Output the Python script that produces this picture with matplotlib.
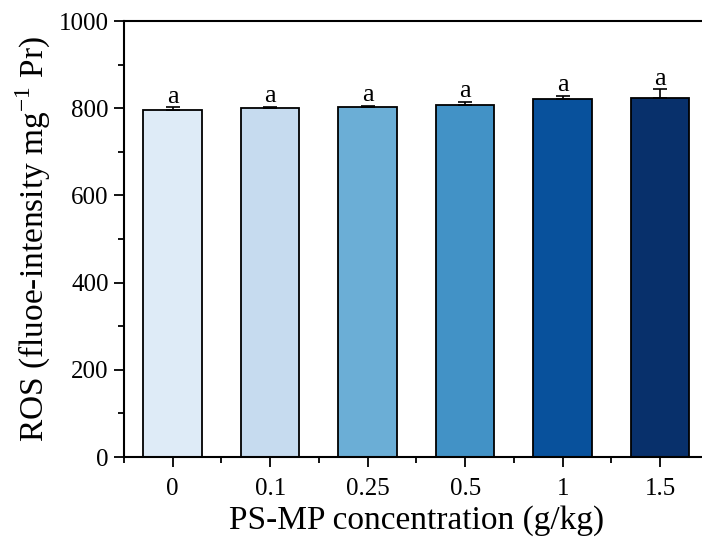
import numpy as np
import matplotlib.pyplot as plt
from matplotlib.ticker import MultipleLocator

plt.rcParams['font.family'] = ['Liberation Serif', 'DejaVu Serif']
plt.rcParams['mathtext.fontset'] = 'custom'
plt.rcParams['mathtext.rm'] = 'Liberation Serif'

# data
concentrations = ['0', '0.1', '0.25', '0.5', '1', '1.5']
ros = [796, 801, 803, 807, 820, 823]
ros_err = [6, 2, 3, 8, 9, 20]
letters = ['a', 'a', 'a', 'a', 'a', 'a']
colors = ['#deebf7', '#c6dbef', '#6baed6', '#4292c6', '#08519c', '#08306b']

fig = plt.figure(figsize=(7.02, 5.46), dpi=100)
ax = fig.add_axes([0.1766, 0.163, 0.8333, 0.7985])

x = np.arange(len(concentrations))
ax.bar(x, ros, width=0.6, color=colors, edgecolor='black', linewidth=1.3, zorder=2)
ax.errorbar(x, ros, yerr=[np.zeros(len(ros)), ros_err], fmt='none', ecolor='black',
            elinewidth=1.2, capsize=5, capthick=1.2, zorder=3)

for xi, v, e, lab in zip(x, ros, ros_err, letters):
    ax.text(xi, v + e - 1, lab, ha='center', va='bottom', fontsize=19)

ax.set_xlim(-0.5, 5.5)
ax.set_ylim(0, 1000)
ax.set_xticks(x)
ax.set_xticklabels(concentrations)
ax.set_yticks(np.arange(0, 1001, 200))
ax.xaxis.set_minor_locator(MultipleLocator(0.5))
ax.yaxis.set_minor_locator(MultipleLocator(100))

ax.tick_params(which='major', direction='out', length=7, width=1.3, labelsize=18)
ax.tick_params(which='minor', direction='out', length=4, width=1.3)
ax.tick_params(axis='x', pad=8)
ax.tick_params(axis='y', pad=4)

for s in ['left', 'top', 'bottom', 'right']:
    ax.spines[s].set_linewidth(1.5)

ax.set_xlabel('PS-MP concentration (g/kg)', fontsize=24, labelpad=4)
ax.set_ylabel(r'ROS (fluoe-intensity mg$^{-1}$ Pr)', fontsize=24, labelpad=4)

fig.savefig('out.png', dpi=100)
